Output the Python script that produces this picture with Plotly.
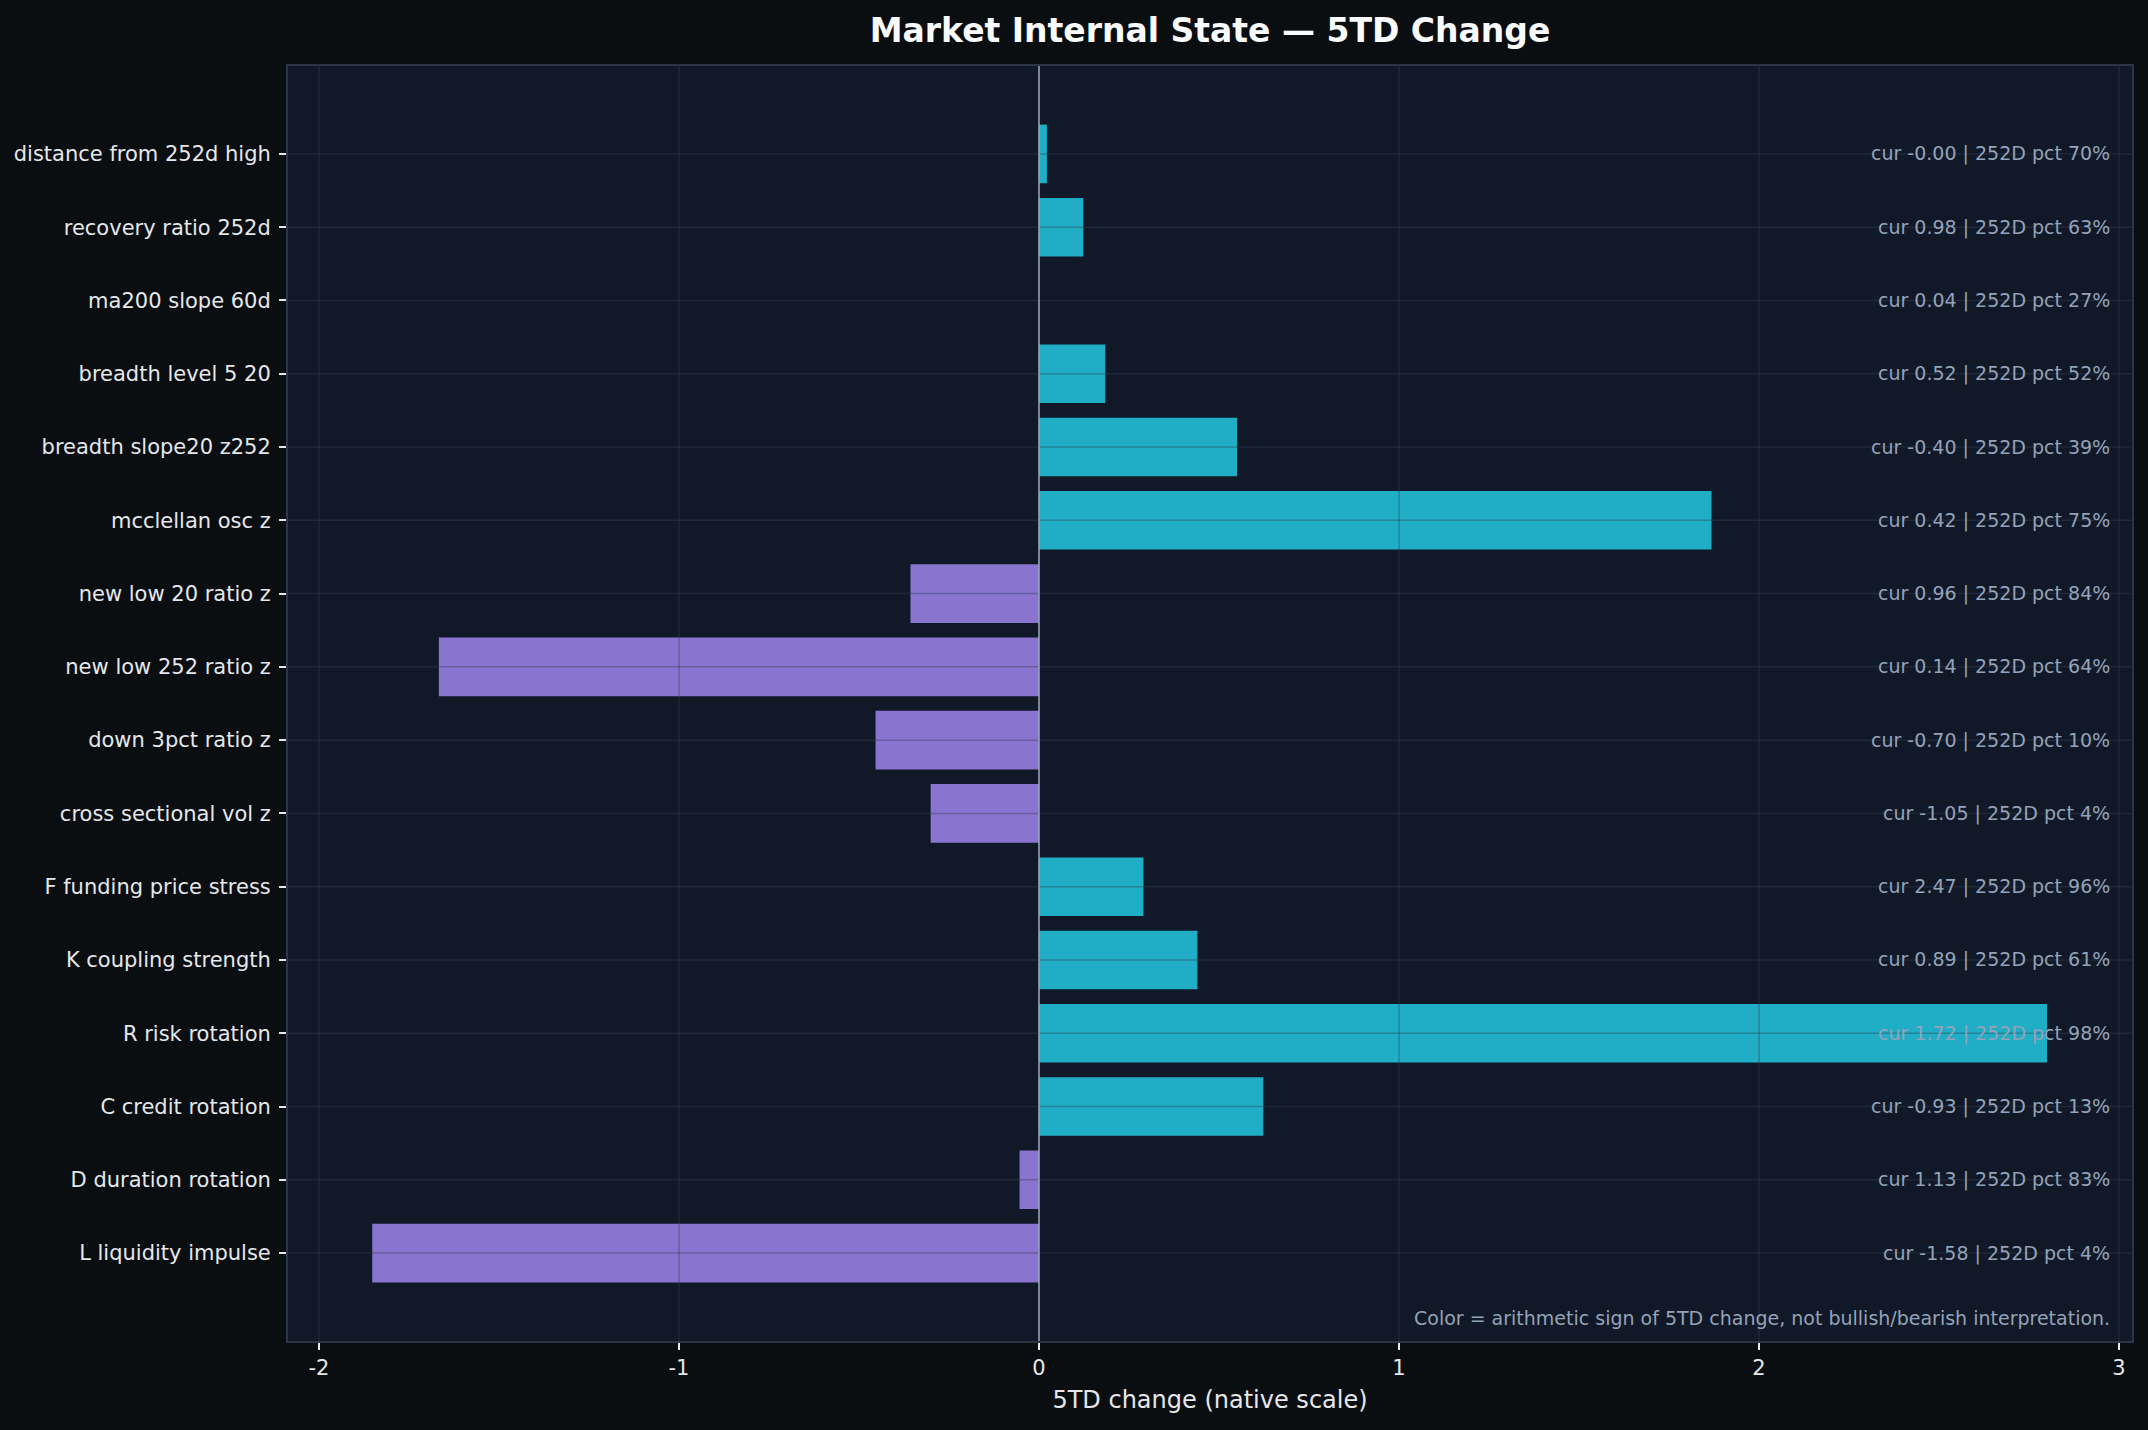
import plotly.graph_objects as go

# market internals, top to bottom as drawn
labels = [
    "distance from 252d high",
    "recovery ratio 252d",
    "ma200 slope 60d",
    "breadth level 5 20",
    "breadth slope20 z252",
    "mcclellan osc z",
    "new low 20 ratio z",
    "new low 252 ratio z",
    "down 3pct ratio z",
    "cross sectional vol z",
    "F funding price stress",
    "K coupling strength",
    "R risk rotation",
    "C credit rotation",
    "D duration rotation",
    "L liquidity impulse",
]
change_5td = [0.022, 0.123, 0.0, 0.184, 0.55, 1.868, -0.357, -1.667,
              -0.454, -0.301, 0.29, 0.44, 2.80, 0.623, -0.054, -1.852]
cur_vals = ["-0.00", "0.98", "0.04", "0.52", "-0.40", "0.42", "0.96", "0.14",
            "-0.70", "-1.05", "2.47", "0.89", "1.72", "-0.93", "1.13", "-1.58"]
pct_252d = [70, 63, 27, 52, 39, 75, 84, 64, 10, 4, 96, 61, 98, 13, 83, 4]
x_ticks = [-2, -1, 0, 1, 2, 3]

POS = "#1faec6"
NEG = "#8974d0"
BG = "#0b0e11"
AX_BG = "#111827"
TXT = "#e5e7eb"
MUTED = "#94a3b8"
GRID = "rgba(51,65,85,0.4)"
FONT = "DejaVu Sans"

colors = [POS if v >= 0 else NEG for v in change_5td]

fig = go.Figure(go.Bar(
    x=change_5td, y=labels, orientation="h",
    marker=dict(color=colors, line=dict(width=0)),
    width=0.8, hoverinfo="x+y",
))

# grid drawn over the bars (matplotlib style), zero line on top
for t in x_ticks:
    if t == 0:
        continue
    fig.add_shape(type="line", x0=t, x1=t, y0=0, y1=1, xref="x", yref="paper",
                  line=dict(color=GRID, width=1.5), layer="above")
for lab in labels:
    fig.add_shape(type="line", x0=0, x1=1, y0=lab, y1=lab, xref="paper", yref="y",
                  line=dict(color=GRID, width=1.5), layer="above")
fig.add_shape(type="line", x0=0, x1=0, y0=0, y1=1, xref="x", yref="paper",
              line=dict(color=MUTED, width=1.6), layer="above")

for lab, c, p in zip(labels, cur_vals, pct_252d):
    fig.add_annotation(
        x=0.989, xref="paper", y=lab, yref="y",
        text=f"cur {c} | 252D pct {p}%",
        showarrow=False, xanchor="right", yanchor="middle",
        font=dict(family=FONT, size=19, color=MUTED),
    )

fig.add_annotation(
    x=0.989, xref="paper", y=0.018, yref="paper",
    text="Color = arithmetic sign of 5TD change, not bullish/bearish interpretation.",
    showarrow=False, xanchor="right", yanchor="middle",
    font=dict(family=FONT, size=19, color=MUTED),
)

fig.update_layout(
    width=2148, height=1430,
    margin=dict(l=288, r=16, t=66, b=89),
    paper_bgcolor=BG, plot_bgcolor=AX_BG,
    font=dict(family=FONT, size=21, color=TXT),
    title=dict(text="<b>Market Internal State — 5TD Change</b>",
               x=0.5, xref="paper", xanchor="center",
               y=1 - 30 / 1430, yref="container", yanchor="middle",
               font=dict(family=FONT, size=33, color="#f8fafc")),
    showlegend=False,
    bargap=0.2,
)

fig.update_xaxes(
    range=[-2.086, 3.036], tickvals=x_ticks,
    ticktext=[str(t) for t in x_ticks],
    ticks="outside", ticklen=7, tickwidth=1.5, tickcolor=TXT,
    tickfont=dict(size=21, color=TXT),
    showgrid=False, zeroline=False,
    showline=True, mirror=True, linecolor="#2b3548", linewidth=2,
    title=dict(text="5TD change (native scale)", standoff=12,
               font=dict(size=24, color=TXT)),
)
fig.update_yaxes(
    type="category", categoryorder="array", categoryarray=labels,
    range=[16.2, -1.2],
    ticks="outside", ticklen=7, tickwidth=1.5, tickcolor=TXT,
    tickfont=dict(size=21, color=TXT), ticklabelstandoff=4,
    showgrid=False, zeroline=False,
    showline=True, mirror=True, linecolor="#2b3548", linewidth=2,
)

fig.write_html(
    "out.html",
    config={"displayModeBar": False},
    post_script="document.body.style.margin='0';"
                "document.body.style.background='#0b0e11';",
)
